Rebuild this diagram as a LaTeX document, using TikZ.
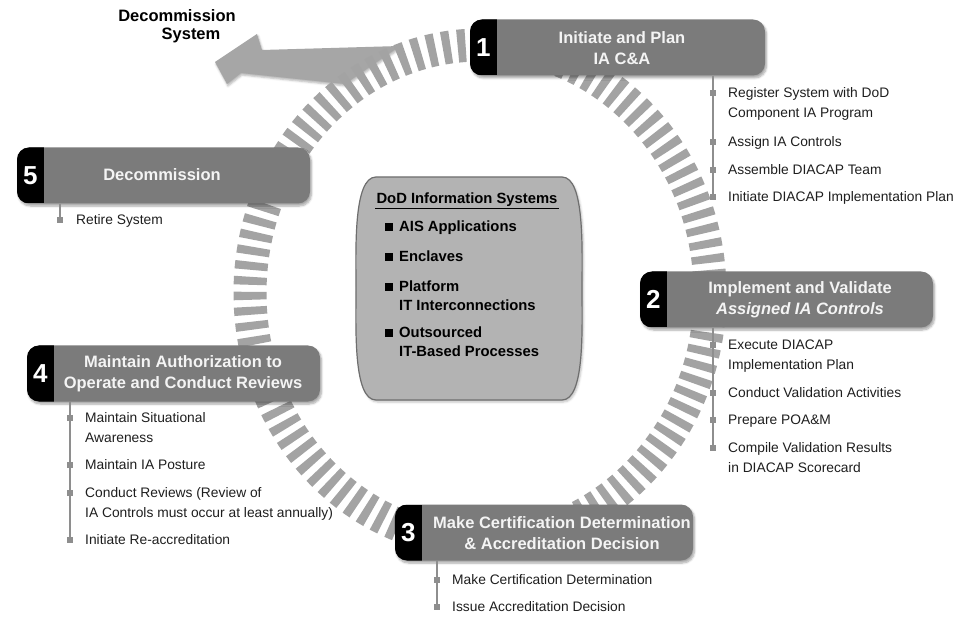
\documentclass[tikz,border=0pt]{standalone}
\usepackage{fontspec}
\setmainfont{Liberation Sans}
\usetikzlibrary{shadows.blur}

\definecolor{ringgray}{HTML}{A3A3A3}
\definecolor{arrowgray}{HTML}{A6A6A6}
\definecolor{stagegray}{HTML}{7B7B7B}
\definecolor{titlewhite}{HTML}{F4F4F4}
\definecolor{bulletgray}{HTML}{8E8E8E}
\definecolor{itemblack}{HTML}{1E1E1E}
\definecolor{centergray}{HTML}{B3B3B3}
\definecolor{boxedge}{HTML}{6E6E6E}

\begin{document}
\begin{tikzpicture}[x=1pt, y=-1pt,
    stage/.style = {fill=stagegray, rounded corners=12pt, minimum height=56pt, inner sep=0pt,
        blur shadow={shadow xshift=1.5pt, shadow yshift=-2.5pt, shadow opacity=35, shadow blur steps=6},
        path picture={\fill[black, sharp corners] (path picture bounding box.north west) rectangle ([xshift=27pt]path picture bounding box.south west);}},
    num/.style = {text=white, font=\bfseries\fontsize{26}{26}\selectfont},
    title/.style = {text=titlewhite, align=center, font=\bfseries\fontsize{16.5}{21}\selectfont},
    bul/.style = {fill=bulletgray, minimum size=6pt, inner sep=0pt},
    item/.style = {anchor=north west, inner sep=0pt, align=left, text=itemblack, font=\fontsize{13.8}{20}\selectfont},
    stem/.style = {draw=bulletgray, line width=1.5pt},
    dbul/.style = {fill=black, minimum size=8pt, inner sep=0pt},
    ditem/.style = {anchor=north west, inner sep=0pt, align=left, font=\bfseries\fontsize{14.8}{19}\selectfont}]

    \useasboundingbox (0,0) rectangle (966,617);

    % way out of the cycle
    \fill[arrowgray, blur shadow={shadow xshift=1pt, shadow yshift=-2pt, shadow opacity=30}]
        (400,46) -- (262,50) -- (257,34) -- (215,62) -- (227,84) -- (241,73) -- (345,84) -- cycle;
    \node[font=\bfseries\fontsize{16.5}{18}\selectfont, align=center] at (177,26) (decom) {Decommission\\\hspace*{28pt}System};

    % the cycle
    \draw[ringgray, line width=33pt, dash pattern=on 8pt off 7pt] (480,293) ellipse [x radius=230pt, y radius=248pt];

    % systems in the middle
    \draw[draw=boxedge, fill=centergray, line width=1.2pt,
        blur shadow={shadow xshift=1.5pt, shadow yshift=-2pt, shadow opacity=25}]
        (376,177) -- (562,177) .. controls (585,177) and (582,250) .. (582,289)
        .. controls (582,328) and (585,400) .. (562,400) -- (376,400)
        .. controls (353,400) and (356,328) .. (356,289)
        .. controls (356,250) and (353,177) .. (376,177) -- cycle;
    \node[font=\bfseries\fontsize{14.8}{18}\selectfont, inner sep=1pt] at (467,200) (dodhead) {DoD Information Systems};
    \draw[line width=1pt] (dodhead.south west) -- (dodhead.south east);
    \node[dbul] at (389,227) (d1) {};
    \node[ditem] at (399,221) (dt1) {AIS Applications};
    \node[dbul] at (389,257) (d2) {};
    \node[ditem] at (399,251) (dt2) {Enclaves};
    \node[dbul] at (389,287) (d3) {};
    \node[ditem] at (399,281) (dt3) {Platform\\IT Interconnections};
    \node[dbul] at (389,333) (d4) {};
    \node[ditem] at (399,327) (dt4) {Outsourced\\IT-Based Processes};

    % 1
    \node[stage, minimum width=295pt] at (617.5,47.5) (s1) {};
    \node[num] at ([xshift=13.5pt]s1.west) (n1) {1};
    \node[title] at (622,48) (t1) {Initiate and Plan\\IA C\&A};
    \node[bul] at (713,93) (b11) {};
    \node[item] at (728,87.5) (i11) {Register System with DoD\\Component IA Program};
    \node[bul] at (713,142) (b12) {};
    \node[item] at (728,136.5) (i12) {Assign IA Controls};
    \node[bul] at (713,170) (b13) {};
    \node[item] at (728,164.5) (i13) {Assemble DIACAP Team};
    \node[bul] at (713,197) (b14) {};
    \node[item] at (728,191.5) (i14) {Initiate DIACAP Implementation Plan};
    \draw[stem] (b11 |- s1.south) -- (b14);

    % 2
    \node[stage, minimum width=293pt] at (786.5,299.5) (s2) {};
    \node[num] at ([xshift=13.5pt]s2.west) (n2) {2};
    \node[title] at (800,300) (t2) {Implement and Validate\\\textit{Assigned IA Controls}};
    \node[bul] at (713,345) (b21) {};
    \node[item] at (728,339.5) (i21) {Execute DIACAP\\Implementation Plan};
    \node[bul] at (713,393) (b22) {};
    \node[item] at (728,387.5) (i22) {Conduct Validation Activities};
    \node[bul] at (713,420) (b23) {};
    \node[item] at (728,414.5) (i23) {Prepare POA\&M};
    \node[bul] at (713,448) (b24) {};
    \node[item] at (728,442.5) (i24) {Compile Validation Results\\in DIACAP Scorecard};
    \draw[stem] (b21 |- s2.south) -- (b24);

    % 3
    \node[stage, minimum width=298pt] at (544,532.5) (s3) {};
    \node[num] at ([xshift=13.5pt]s3.west) (n3) {3};
    \node[title] at (562,533) (t3) {Make Certification Determination\\\& Accreditation Decision};
    \node[bul] at (437,580) (b31) {};
    \node[item] at (452,574.5) (i31) {Make Certification Determination};
    \node[bul] at (437,607) (b32) {};
    \node[item] at (452,601.5) (i32) {Issue Accreditation Decision};
    \draw[stem] (b31 |- s3.south) -- (b32);

    % 4
    \node[stage, minimum width=293pt] at (173.5,373.5) (s4) {};
    \node[num] at ([xshift=13.5pt]s4.west) (n4) {4};
    \node[title] at (183,374) (t4) {Maintain Authorization to\\Operate and Conduct Reviews};
    \node[bul] at (70,418) (b41) {};
    \node[item] at (85,412.5) (i41) {Maintain Situational\\Awareness};
    \node[bul] at (70,465) (b42) {};
    \node[item] at (85,459.5) (i42) {Maintain IA Posture};
    \node[bul] at (70,493) (b43) {};
    \node[item] at (85,487.5) (i43) {Conduct Reviews (Review of\\IA Controls must occur at least annually)};
    \node[bul] at (70,540) (b44) {};
    \node[item] at (85,534.5) (i44) {Initiate Re-accreditation};
    \draw[stem] (b41 |- s4.south) -- (b44);

    % 5
    \node[stage, minimum width=293pt] at (163.5,175.5) (s5) {};
    \node[num] at ([xshift=13.5pt]s5.west) (n5) {5};
    \node[title] at (162,175) (t5) {Decommission};
    \node[bul] at (60,220) (b51) {};
    \node[item] at (76,214.5) (i51) {Retire System};
    \draw[stem] (b51 |- s5.south) -- (b51);
\end{tikzpicture}
\end{document}
